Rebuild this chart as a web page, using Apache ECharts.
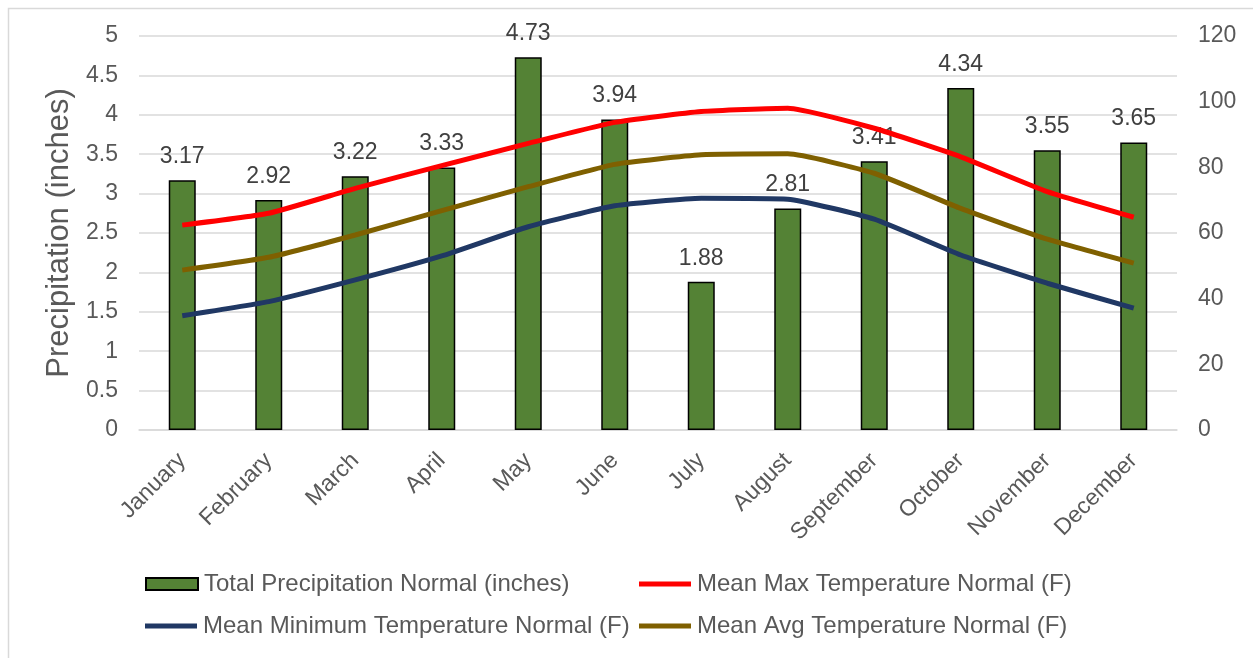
<!DOCTYPE html>
<html>
<head>
<meta charset="utf-8">
<script src="https://cdn.jsdelivr.net/npm/echarts@6/dist/echarts.min.js"></script>
<style>
html,body{margin:0;padding:0;background:#fff;}
#chart{width:1253px;height:658px;}
</style>
</head>
<body>
<div id="chart"></div>
<script>
const months = ['January','February','March','April','May','June','July','August','September','October','November','December'];
const precip = [3.17, 2.92, 3.22, 3.33, 4.73, 3.94, 1.88, 2.81, 3.41, 4.34, 3.55, 3.65];
const maxTemp = [62.4, 66.0, 73.6, 80.5, 87.3, 93.7, 97.0, 98.0, 91.9, 83.2, 72.6, 64.8];
const minTemp = [34.8, 39.1, 45.7, 53.0, 61.9, 68.3, 70.6, 70.3, 64.2, 53.3, 44.7, 37.1];
const avgTemp = [48.7, 52.6, 59.4, 66.8, 74.1, 80.9, 83.8, 84.1, 78.2, 67.5, 58.1, 50.8];

const names = {
  p: 'Total Precipitation Normal (inches)',
  mx: 'Mean Max Temperature Normal (F)',
  mn: 'Mean Minimum Temperature Normal (F)',
  av: 'Mean Avg Temperature Normal (F)'
};
const colors = { bar: '#548235', mx: '#FF0000', mn: '#203864', av: '#7F6000' };
const font = 'Arial, "Liberation Sans", sans-serif';
const gray = '#595959';

function legendItem(name, left, top, isBar, color) {
  return {
    left: left, top: top, orient: 'horizontal',
    itemWidth: 52, itemHeight: isBar ? 12 : 5, itemGap: 0,
    selectedMode: false,
    textStyle: { fontFamily: font, fontSize: 24, color: gray, padding: [0,0,0,1] },
    data: [{ name: name, icon: 'rect', itemStyle: isBar ? { color: color, borderColor: '#000', borderWidth: 2 } : { color: color, borderWidth: 0 } }]
  };
}

const chart = echarts.init(document.getElementById('chart'), null, { renderer: 'canvas' });
chart.setOption({
  animation: false,
  backgroundColor: '#fff',
  graphic: [{
    type: 'rect', left: 6, top: 6, silent: true,
    shape: { width: 1260, height: 670 },
    style: { fill: 'none', stroke: '#d9d9d9', lineWidth: 1.5 }
  }],
  grid: { left: 139, right: 76, top: 36, bottom: 228, containLabel: false },
  legend: [
    legendItem(names.p, 140, 567, true, colors.bar),
    legendItem(names.mx, 634, 567, false, colors.mx),
    legendItem(names.mn, 140, 609, false, colors.mn),
    legendItem(names.av, 634, 609, false, colors.av)
  ],
  xAxis: {
    type: 'category', data: months, boundaryGap: true,
    axisLine: { show: true, lineStyle: { color: '#d9d9d9', width: 1.5 } },
    axisTick: { show: false },
    axisLabel: { rotate: 45, margin: 27, fontFamily: font, fontSize: 23, color: gray, interval: 0 }
  },
  yAxis: [{
    type: 'value', min: 0, max: 5, interval: 0.5,
    name: 'Precipitation (inches)', nameLocation: 'middle', nameGap: 61, nameRotate: 90,
    nameTextStyle: { fontFamily: font, fontSize: 31, color: gray },
    axisLine: { show: false }, axisTick: { show: false },
    axisLabel: { margin: 21, fontFamily: font, fontSize: 23, color: gray },
    splitLine: { lineStyle: { color: '#d9d9d9', width: 1.5 } }
  }, {
    type: 'value', min: 0, max: 120, interval: 20,
    axisLine: { show: false }, axisTick: { show: false },
    axisLabel: { margin: 21, fontFamily: font, fontSize: 23, color: gray },
    splitLine: { show: false }
  }],
  series: [{
    name: names.p, type: 'bar', data: precip, barWidth: 27, yAxisIndex: 0,
    itemStyle: { color: colors.bar, borderColor: '#000', borderWidth: 1.5 },
    label: { show: true, position: 'top', distance: 12, fontFamily: font, fontSize: 23, color: '#404040', formatter: p => p.value.toFixed(2) },
    z: 1
  }, {
    name: names.mx, type: 'line', data: maxTemp, yAxisIndex: 1, smooth: 0.15,
    showSymbol: false, symbol: 'none', lineStyle: { color: colors.mx, width: 5 }, itemStyle: { color: colors.mx }, z: 3
  }, {
    name: names.mn, type: 'line', data: minTemp, yAxisIndex: 1, smooth: 0.15,
    showSymbol: false, symbol: 'none', lineStyle: { color: colors.mn, width: 5 }, itemStyle: { color: colors.mn }, z: 3
  }, {
    name: names.av, type: 'line', data: avgTemp, yAxisIndex: 1, smooth: 0.15,
    showSymbol: false, symbol: 'none', lineStyle: { color: colors.av, width: 5 }, itemStyle: { color: colors.av }, z: 3
  }]
});
</script>
</body>
</html>
